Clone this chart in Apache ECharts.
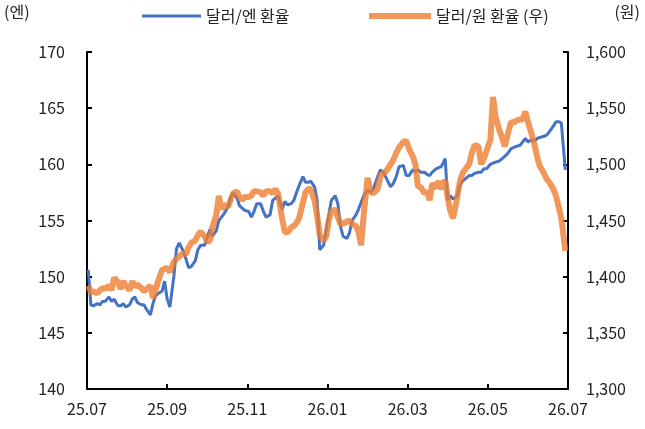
<!DOCTYPE html>
<html>
<head>
<meta charset="utf-8">
<title>달러/엔, 달러/원 환율</title>
<script src="https://cdn.jsdelivr.net/npm/echarts@6/dist/echarts.min.js"></script>
<style>
  html, body { margin: 0; padding: 0; background: #fff; }
  #chart { width: 645px; height: 429px; }
</style>
</head>
<body>
<div id="chart"></div>
<script>
// 날짜 (약 2~3일 간격)
var dates = ['2025-07-02','2025-07-04','2025-07-06','2025-07-09','2025-07-11','2025-07-13','2025-07-15','2025-07-18','2025-07-20','2025-07-22',
  '2025-07-25','2025-07-27','2025-07-29','2025-07-31','2025-08-03','2025-08-05','2025-08-07','2025-08-09','2025-08-12','2025-08-14',
  '2025-08-16','2025-08-19','2025-08-21','2025-08-23','2025-08-25','2025-08-28','2025-08-30','2025-09-01','2025-09-03','2025-09-06',
  '2025-09-08','2025-09-10','2025-09-13','2025-09-15','2025-09-17','2025-09-19','2025-09-22','2025-09-24','2025-09-26','2025-09-29',
  '2025-10-01','2025-10-03','2025-10-05','2025-10-08','2025-10-10','2025-10-12','2025-10-14','2025-10-17','2025-10-19','2025-10-21',
  '2025-10-24','2025-10-26','2025-10-28','2025-10-30','2025-11-02','2025-11-04','2025-11-06','2025-11-08','2025-11-11','2025-11-13',
  '2025-11-15','2025-11-18','2025-11-20','2025-11-22','2025-11-24','2025-11-27','2025-11-29','2025-12-01','2025-12-04','2025-12-06',
  '2025-12-08','2025-12-10','2025-12-13','2025-12-15','2025-12-17','2025-12-19','2025-12-22','2025-12-24','2025-12-26','2025-12-29',
  '2025-12-31','2026-01-02','2026-01-04','2026-01-07','2026-01-09','2026-01-11','2026-01-13','2026-01-16','2026-01-18','2026-01-20',
  '2026-01-23','2026-01-25','2026-01-27','2026-01-29','2026-02-01','2026-02-03','2026-02-05','2026-02-08','2026-02-10','2026-02-12',
  '2026-02-14','2026-02-17','2026-02-19','2026-02-21','2026-02-23','2026-02-26','2026-02-28','2026-03-02','2026-03-05','2026-03-07',
  '2026-03-09','2026-03-11','2026-03-14','2026-03-16','2026-03-18','2026-03-20','2026-03-23','2026-03-25','2026-03-27','2026-03-30',
  '2026-04-01','2026-04-03','2026-04-05','2026-04-08','2026-04-10','2026-04-12','2026-04-15','2026-04-17','2026-04-19','2026-04-21',
  '2026-04-24','2026-04-26','2026-04-28','2026-04-30','2026-05-03','2026-05-05','2026-05-07','2026-05-10','2026-05-12','2026-05-14',
  '2026-05-16','2026-05-19','2026-05-21','2026-05-23','2026-05-26','2026-05-28','2026-05-30','2026-06-01','2026-06-04','2026-06-06',
  '2026-06-08','2026-06-10','2026-06-13','2026-06-15','2026-06-17','2026-06-20','2026-06-22','2026-06-24','2026-06-26','2026-06-29'];

// 달러/엔 환율 (좌축)
var usdJpy = [150.6,147.5,147.4,147.6,147.5,147.8,147.8,148.2,147.8,148.0,
  147.4,147.4,147.6,147.3,147.5,148.0,148.2,147.7,147.5,147.5,
  147.1,146.6,147.6,148.3,148.5,148.7,149.6,148.0,147.3,150.0,
  152.5,153.0,152.3,151.6,150.8,150.9,151.4,152.4,152.8,152.8,
  153.5,154.2,153.6,154.1,155.0,155.3,155.6,156.2,157.0,157.5,
  157.0,156.3,156.1,155.9,155.8,155.3,155.8,156.5,156.5,155.8,
  155.3,155.5,156.8,157.0,157.2,156.0,156.7,156.4,156.5,156.8,
  157.5,158.1,158.9,158.4,158.4,158.5,158.0,156.8,152.4,152.8,
  154.2,155.5,156.8,157.2,156.5,154.5,153.6,153.4,153.9,155.0,
  155.5,156.0,156.6,157.2,157.7,157.5,157.8,158.9,159.5,159.3,
  158.8,158.0,158.3,158.9,159.8,159.9,159.0,159.0,159.5,159.4,
  159.5,159.3,159.3,159.1,159.0,159.3,159.6,159.7,159.8,160.5,
  156.8,157.2,156.9,157.2,158.1,158.5,158.8,159.0,159.0,159.2,
  159.3,159.3,159.6,159.6,160.0,160.1,160.2,160.3,160.5,160.7,
  160.9,161.4,161.5,161.6,161.7,162.0,162.3,162.0,162.2,162.1,
  162.3,162.4,162.5,162.6,162.9,163.4,163.8,163.8,163.7,159.5];

// 달러/원 환율 (우축)
var usdKrw = [1392,1386,1387,1385,1388,1390,1389,1392,1388,1399,
  1395,1389,1396,1392,1388,1396,1391,1393,1390,1387,
  1389,1392,1381,1388,1396,1406,1407,1408,1404,1413,
  1416,1418,1421,1420,1426,1430,1432,1437,1440,1436,
  1431,1432,1444,1455,1472,1460,1464,1462,1468,1474,
  1476,1471,1468,1471,1471,1472,1476,1476,1475,1472,
  1476,1476,1474,1478,1474,1452,1440,1439,1444,1445,
  1448,1452,1466,1475,1478,1478,1468,1454,1437,1432,
  1436,1450,1458,1460,1453,1447,1447,1449,1450,1447,
  1445,1440,1428,1455,1488,1476,1474,1478,1490,1492,
  1494,1500,1504,1510,1515,1520,1521,1514,1507,1500,
  1480,1480,1474,1476,1468,1483,1479,1485,1478,1486,
  1470,1458,1452,1470,1484,1492,1497,1500,1510,1517,
  1516,1500,1505,1512,1522,1560,1542,1530,1524,1516,
  1525,1538,1537,1539,1540,1540,1547,1538,1526,1517,
  1506,1498,1492,1487,1484,1478,1472,1462,1452,1423];

var seriesNames = ['달러/엔 환율', '달러/원 환율 (우)'];

// 2025.07 기준 경과 개월 수 (소수)
function monthPos(s) {
  var p = s.split('-');
  var y = +p[0], m = +p[1], d = +p[2];
  var days = new Date(y, m, 0).getDate();
  return (y - 2025) * 12 + (m - 7) + (d - 1) / days;
}
function monthLabel(v) {
  var idx = 6 + Math.round(v);
  var yy = 25 + Math.floor(idx / 12);
  var mm = idx % 12 + 1;
  return yy + '.' + (mm < 10 ? '0' + mm : mm);
}

var jpyData = dates.map(function (d, i) { return [monthPos(d), usdJpy[i]]; });
var krwData = dates.map(function (d, i) { return [monthPos(d), usdKrw[i]]; });

var FONT = '"Noto Sans CJK KR", "Noto Sans", sans-serif';
var BLUE = '#4472C4';
var ORANGE = '#ED7D31';

var axisCommon = {
  axisLine: { show: true, lineStyle: { color: '#000', width: 2 } },
  axisTick: { show: true, inside: true, length: 5, lineStyle: { color: '#000', width: 2 } },
  splitLine: { show: false }
};

var chart = echarts.init(document.getElementById('chart'));
chart.setOption({
  animation: false,
  textStyle: { fontFamily: FONT },
  grid: { left: 87, right: 77, top: 52, bottom: 40, containLabel: false },
  legend: [
    {
      left: 137, top: 3, icon: 'rect',
      itemWidth: 59, itemHeight: 3,
      textStyle: { fontSize: 16, color: '#222', fontFamily: FONT },
      data: [seriesNames[0]]
    },
    {
      left: 364, top: 3, icon: 'rect',
      itemWidth: 62, itemHeight: 6,
      textStyle: { fontSize: 16, color: '#222', fontFamily: FONT },
      data: [{ name: seriesNames[1], itemStyle: { color: '#F0975A' } }]
    }
  ],
  graphic: [
    { type: 'text', left: 4, top: 4, style: { text: '(엔)', fill: '#222', font: '16px ' + FONT } },
    { type: 'text', right: 5, top: 4, style: { text: '(원)', fill: '#222', font: '16px ' + FONT } }
  ],
  xAxis: Object.assign({
    type: 'value', min: 0, max: 12, interval: 2,
    axisLabel: { fontSize: 16, color: '#222', margin: 12, formatter: monthLabel }
  }, axisCommon),
  yAxis: [
    Object.assign({
      type: 'value', min: 140, max: 170, interval: 5,
      axisLabel: { fontSize: 16, color: '#222', margin: 22 }
    }, axisCommon),
    Object.assign({
      type: 'value', min: 1300, max: 1600, interval: 50,
      position: 'right',
      axisLabel: {
        fontSize: 16, color: '#222', margin: 18,
        formatter: function (v) { return v.toLocaleString('en-US'); }
      }
    }, axisCommon)
  ],
  series: [
    {
      name: seriesNames[0], type: 'line', yAxisIndex: 0,
      data: jpyData, showSymbol: false, symbol: 'none',
      itemStyle: { color: BLUE },
      lineStyle: { color: BLUE, width: 3 },
      z: 2
    },
    {
      name: seriesNames[1], type: 'line', yAxisIndex: 1,
      data: krwData, showSymbol: false, symbol: 'none',
      itemStyle: { color: '#F0975A' },
      lineStyle: { color: ORANGE, width: 6, opacity: 0.8 },
      z: 3
    }
  ]
});
</script>
</body>
</html>
